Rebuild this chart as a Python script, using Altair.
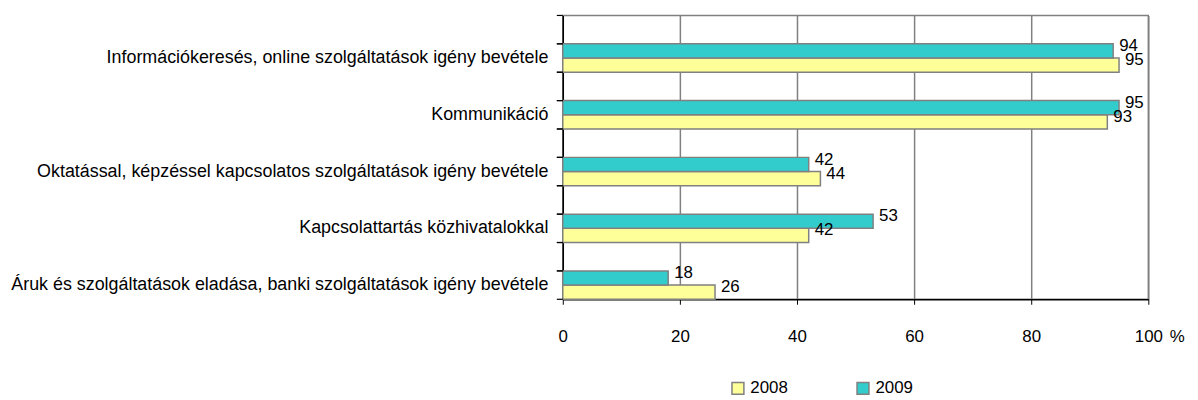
import altair as alt
import pandas as pd

categories = [
    "Információkeresés, online szolgáltatások igény bevétele",
    "Kommunikáció",
    "Oktatással, képzéssel kapcsolatos szolgáltatások igény bevétele",
    "Kapcsolattartás közhivatalokkal",
    "Áruk és szolgáltatások eladása, banki szolgáltatások igény bevétele",
]
values_2008 = [95, 93, 44, 42, 26]
values_2009 = [94, 95, 42, 53, 18]
years = ["2008", "2009"]
year_colors = ["#FFFF99", "#33CCCC"]
x_ticks = [0, 20, 40, 60, 80, 100]

rows = []
for c, a, b in zip(categories, values_2008, values_2009):
    rows.append({"cat": c, "year": "2008", "value": a})
    rows.append({"cat": c, "year": "2009", "value": b})
df = pd.DataFrame(rows)

gap_keys = [f"gap{i}" for i in range(len(categories))]
y_domain = []
for g, c in zip(gap_keys, categories):
    y_domain += [g, c]
tick_df = pd.DataFrame({"cat": y_domain})

FONT = "Liberation Sans"

x_enc = alt.X(
    "value:Q",
    scale=alt.Scale(domain=[0, 100], nice=False),
    axis=alt.Axis(
        values=x_ticks, grid=True, gridColor="#808080", gridWidth=1.5,
        tickSize=5, tickColor="black", domainColor="black", domainWidth=1.5,
        labelPadding=25, labelFontSize=17, labelFont=FONT, labelColor="black",
        labelFlush=False,
        title="%", titleX=611, titleY=30, titleAlign="left", titleBaseline="top",
        titleFontWeight="normal", titleFontSize=17, titleFont=FONT, titleColor="black",
    ),
)
y_enc = alt.Y(
    "cat:N",
    scale=alt.Scale(domain=y_domain, paddingInner=0, paddingOuter=0),
    axis=alt.Axis(
        title=None, grid=False, ticks=False,
        labelExpr="indexof(datum.value, 'gap') == 0 ? '' : datum.value",
        domainColor="black", domainWidth=1.5,
        labelPadding=15, labelFontSize=18, labelFont=FONT, labelColor="black",
        labelLimit=700,
    ),
)

bars = alt.Chart(df).mark_bar(stroke="#808080", strokeWidth=1.5).encode(
    x=x_enc,
    y=y_enc,
    yOffset=alt.YOffset("year:N", sort=["2009", "2008"]),
    color=alt.Color(
        "year:N",
        scale=alt.Scale(domain=years, range=year_colors),
        legend=alt.Legend(
            title=None, orient="none", legendX=168, legendY=367,
            direction="horizontal",
            symbolType="square", symbolSize=144,
            symbolStrokeColor="#808080", symbolStrokeWidth=1.5,
            labelFontSize=17, labelFont=FONT, labelColor="black",
            columnPadding=66, labelOffset=4,
        ),
    ),
)

ticks_start = alt.Chart(tick_df).mark_rule(color="black", strokeWidth=1.2).encode(
    y=alt.Y("cat:N", bandPosition=0), x=alt.value(-6), x2=alt.value(0)
)
ticks_end = alt.Chart(tick_df).mark_rule(color="black", strokeWidth=1.2).encode(
    y=alt.Y("cat:N", bandPosition=1), x=alt.value(-6), x2=alt.value(0)
)

lab09 = alt.Chart(df).transform_filter(alt.datum.year == "2009").mark_text(
    align="left", baseline="middle", dx=6, dy=-12, fontSize=17, font=FONT, color="black"
).encode(x=alt.X("value:Q"), y=alt.Y("cat:N"), text=alt.Text("value:Q"))

lab08 = alt.Chart(df).transform_filter(alt.datum.year == "2008").mark_text(
    align="left", baseline="middle", dx=6, dy=2, fontSize=17, font=FONT, color="black"
).encode(x=alt.X("value:Q"), y=alt.Y("cat:N"), text=alt.Text("value:Q"))

chart = (bars + ticks_start + ticks_end + lab09 + lab08).properties(
    width=590, height=286,
    padding={"left": 2, "top": 5, "right": 5, "bottom": 5},
).configure_view(stroke="#808080", strokeWidth=1.5)

chart.save("out.html", embed_options={"renderer": "svg", "actions": False})
